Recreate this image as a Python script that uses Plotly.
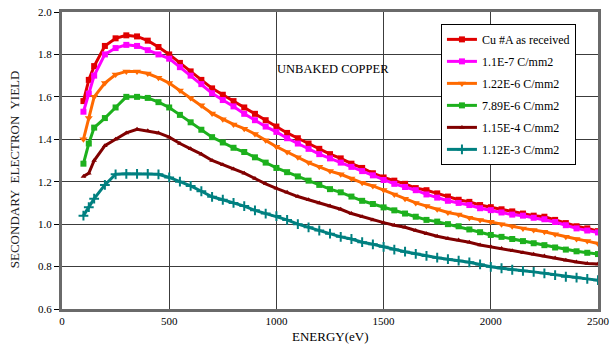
import plotly.graph_objects as go

energy = [100, 125, 150, 200, 250, 300, 350, 400, 450,
          500, 550, 600, 650, 700, 750, 800, 850, 900, 950,
          1000, 1050, 1100, 1150, 1200, 1250, 1300, 1350, 1400, 1450,
          1500, 1550, 1600, 1650, 1700, 1750, 1800, 1850, 1900, 1950,
          2000, 2050, 2100, 2150, 2200, 2250, 2300, 2350, 2400, 2450, 2500]

cu_received = [1.58, 1.68, 1.745, 1.84, 1.876, 1.89, 1.885, 1.865, 1.835,
               1.80, 1.76, 1.72, 1.68, 1.64, 1.61, 1.58, 1.55, 1.52, 1.49,
               1.46, 1.43, 1.405, 1.38, 1.355, 1.33, 1.31, 1.285, 1.265, 1.24,
               1.22, 1.205, 1.19, 1.17, 1.16, 1.145, 1.13, 1.115, 1.105, 1.09,
               1.08, 1.07, 1.06, 1.05, 1.04, 1.035, 1.02, 1.005, 0.99, 0.98, 0.967]

dose_1e7 = [1.53, 1.615, 1.70, 1.80, 1.83, 1.845, 1.84, 1.82, 1.80,
            1.78, 1.74, 1.70, 1.66, 1.617, 1.585, 1.555, 1.52, 1.49, 1.46,
            1.435, 1.405, 1.38, 1.355, 1.33, 1.31, 1.29, 1.27, 1.25, 1.23,
            1.208, 1.19, 1.175, 1.16, 1.14, 1.125, 1.11, 1.10, 1.09, 1.075,
            1.066, 1.055, 1.045, 1.04, 1.03, 1.023, 1.01, 0.995, 0.98, 0.97, 0.961]

dose_1e6 = [1.40, 1.50, 1.60, 1.665, 1.705, 1.72, 1.72, 1.71, 1.69,
            1.665, 1.63, 1.595, 1.56, 1.522, 1.495, 1.47, 1.45, 1.425, 1.395,
            1.365, 1.34, 1.315, 1.29, 1.27, 1.25, 1.235, 1.215, 1.195, 1.18,
            1.161, 1.14, 1.12, 1.10, 1.085, 1.07, 1.055, 1.045, 1.03, 1.02,
            1.011, 1.0, 0.99, 0.98, 0.972, 0.964, 0.952, 0.94, 0.93, 0.92, 0.909]

dose_8e6 = [1.285, 1.38, 1.455, 1.50, 1.55, 1.60, 1.60, 1.595, 1.575,
            1.55, 1.515, 1.48, 1.445, 1.41, 1.385, 1.36, 1.34, 1.315, 1.29,
            1.265, 1.245, 1.225, 1.205, 1.185, 1.165, 1.15, 1.13, 1.11, 1.095,
            1.079, 1.065, 1.05, 1.035, 1.02, 1.012, 1.0, 0.99, 0.975, 0.962,
            0.949, 0.94, 0.93, 0.92, 0.91, 0.901, 0.89, 0.88, 0.872, 0.865, 0.859]

dose_1e4 = [1.225, 1.24, 1.30, 1.37, 1.40, 1.43, 1.447, 1.44, 1.43,
            1.41, 1.38, 1.355, 1.33, 1.30, 1.28, 1.26, 1.24, 1.215, 1.19,
            1.169, 1.15, 1.13, 1.115, 1.10, 1.085, 1.07, 1.05, 1.035, 1.02,
            1.007, 0.995, 0.985, 0.97, 0.955, 0.943, 0.932, 0.925, 0.915, 0.902,
            0.893, 0.885, 0.875, 0.865, 0.858, 0.85, 0.84, 0.83, 0.822, 0.815, 0.812]

dose_1e3 = [1.04, 1.08, 1.12, 1.185, 1.235, 1.237, 1.237, 1.237, 1.235,
            1.22, 1.20, 1.18, 1.155, 1.129, 1.115, 1.10, 1.085, 1.065, 1.05,
            1.038, 1.02, 1.0, 0.985, 0.97, 0.955, 0.94, 0.93, 0.915, 0.905,
            0.893, 0.88, 0.87, 0.86, 0.85, 0.842, 0.835, 0.828, 0.82, 0.81,
            0.799, 0.792, 0.785, 0.78, 0.775, 0.768, 0.76, 0.752, 0.748, 0.742, 0.736]

series_names = ["Cu #A as received", "1.1E-7 C/mm2", "1.22E-6 C/mm2",
                "7.89E-6 C/mm2", "1.15E-4 C/mm2", "1.12E-3 C/mm2"]
series_values = [cu_received, dose_1e7, dose_1e6, dose_8e6, dose_1e4, dose_1e3]
colors = ["#E00000", "#FF00FF", "#FF6A00", "#1DB01D", "#800000", "#008080"]
symbols = ["square", "square", "triangle-down", "square", "triangle-up", "cross-thin"]
msizes = [6, 6, 7, 6, 5, 7]

x_ticks = [0, 500, 1000, 1500, 2000, 2500]
y_ticks = [0.6, 0.8, 1.0, 1.2, 1.4, 1.6, 1.8, 2.0]
y_tick_text = ["0.6", "0.8", "1.0", "1.2", "1.4", "1.6", "1.8", "2.0"]

font_family = "Liberation Serif"

fig = go.Figure()
for i, (name, vals, col, sym, ms) in enumerate(zip(series_names, series_values, colors, symbols, msizes)):
    marker = dict(symbol=sym, size=ms, color=col)
    if sym == "cross-thin":
        marker["line"] = dict(color=col, width=2)
    fig.add_trace(go.Scatter(
        x=energy, y=vals, name=name, mode="lines+markers",
        line=dict(color=col, width=3), marker=marker, legendgroup=f"g{i}",
    ))

fig.add_annotation(x=1263, y=1.731, text="UNBAKED COPPER", showarrow=False,
                   font=dict(family=font_family, size=12.5, color="#000"))
fig.add_annotation(xref="paper", yref="paper", x=-0.088, y=0.47,
                   text="SECONDARY  ELECTRON  YIELD", textangle=-90, showarrow=False,
                   xanchor="center", yanchor="middle",
                   font=dict(family=font_family, size=13, color="#222"))
fig.add_annotation(xref="paper", yref="paper", x=0.5, y=-0.091,
                   text="ENERGY(eV)", showarrow=False,
                   xanchor="center", yanchor="middle",
                   font=dict(family=font_family, size=13, color="#000"))

fig.update_layout(
    width=612, height=349,
    margin=dict(l=62, r=14, t=12, b=40),
    paper_bgcolor="white", plot_bgcolor="white",
    font=dict(family=font_family, size=11, color="#000"),
    showlegend=True,
    legend=dict(x=0.707, y=0.96, xanchor="left", yanchor="top",
                bgcolor="white", bordercolor="#000", borderwidth=1,
                font=dict(family=font_family, size=12, color="#000"),
                itemwidth=30, traceorder="grouped", tracegroupgap=3),
    xaxis=dict(range=[0, 2500], tickvals=x_ticks, ticks="", showgrid=True,
               gridcolor="#3c3c3c", gridwidth=1, zeroline=False, automargin=False,
               showline=True, linecolor="#6a6a6a", linewidth=3, mirror=True,
               tickfont=dict(family=font_family, size=11)),
    yaxis=dict(range=[0.6, 2.0], tickvals=y_ticks, ticktext=y_tick_text,
               ticks="outside", ticklen=5, tickcolor="#000", showgrid=True,
               gridcolor="#3c3c3c", gridwidth=1, zeroline=False, automargin=False,
               showline=True, linecolor="#6a6a6a", linewidth=3, mirror=True,
               tickfont=dict(family=font_family, size=11)),
)

fig.write_html("out.html", config={"displayModeBar": False},
               post_script="document.body.style.margin='0';document.body.style.overflow='hidden';")
